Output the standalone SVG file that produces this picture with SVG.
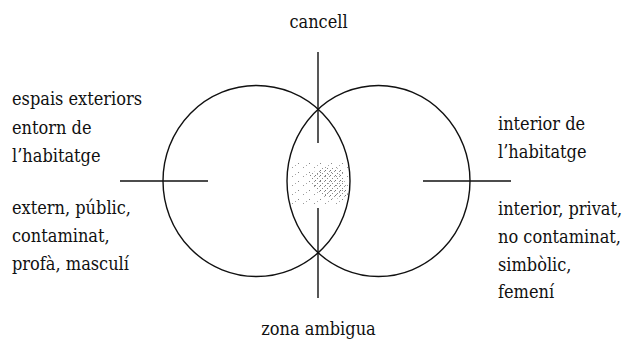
<svg xmlns="http://www.w3.org/2000/svg" width="629" height="341" viewBox="0 0 629 341">
<style>
.ln{stroke:#111;stroke-width:1.4;fill:none}
</style>
<defs>
<pattern id="sparse" width="11" height="9" patternUnits="userSpaceOnUse">
<rect x="1" y="1" width="1" height="1" fill="#888"/>
<rect x="6" y="5" width="1" height="1" fill="#999"/>
<rect x="9" y="3" width="1" height="1" fill="#aaa"/>
</pattern>
<pattern id="dense" width="5" height="5" patternUnits="userSpaceOnUse">
<rect x="0" y="0" width="1" height="1" fill="#777"/>
<rect x="2" y="3" width="1" height="1" fill="#888"/>
<rect x="4" y="1" width="1" height="1" fill="#999"/>
</pattern>
<clipPath id="lens">
<ellipse cx="256.5" cy="181" rx="93.5" ry="95.5"/>
</clipPath>
</defs>
<rect width="629" height="341" fill="#fff"/>
<g id="shading" clip-path="url(#lens)">
<path d="M288 165 Q300 158 320 162 Q340 158 350 168 L350 205 Q330 210 305 206 Q292 208 288 200 Z" fill="url(#sparse)"/>
<path d="M310 175 Q325 162 342 170 L348 195 Q335 202 322 196 Q312 190 310 175 Z" fill="url(#dense)"/>
</g>
<g id="left-circle">
<ellipse class="ln" cx="256.5" cy="181" rx="93.5" ry="95.5"/>
</g>
<g id="right-circle">
<ellipse class="ln" cx="378.5" cy="181" rx="91.5" ry="95.5"/>
</g>
<g id="connectors">
<line class="ln" x1="318" y1="52" x2="318" y2="143"/>
<line class="ln" x1="318" y1="208" x2="318" y2="298"/>
<line class="ln" x1="120" y1="181" x2="208" y2="181"/>
<line class="ln" x1="423" y1="181" x2="511" y2="181"/>
</g>
<g font-family="DejaVu Serif Condensed, DejaVu Serif, serif" font-stretch="condensed" font-size="18" fill="#111">
<g id="label-top">
<text x="318.5" y="28" text-anchor="middle">cancell</text>
</g>
<g id="label-bottom">
<text x="318.5" y="335" text-anchor="middle">zona ambigua</text>
</g>
<g id="label-left-top">
<text x="12" y="105">espais exteriors</text>
<text x="12" y="133.5">entorn de</text>
<text x="12" y="162">l’habitatge</text>
</g>
<g id="label-left-bottom">
<text x="12" y="214">extern, públic,</text>
<text x="12" y="242">contaminat,</text>
<text x="12" y="270">profà, masculí</text>
</g>
<g id="label-right-top">
<text x="498" y="130">interior de</text>
<text x="498" y="158">l’habitatge</text>
</g>
<g id="label-right-bottom">
<text x="498" y="215">interior, privat,</text>
<text x="498" y="243">no contaminat,</text>
<text x="498" y="270.5">simbòlic,</text>
<text x="498" y="297.5">femení</text>
</g>
</g>
</svg>
